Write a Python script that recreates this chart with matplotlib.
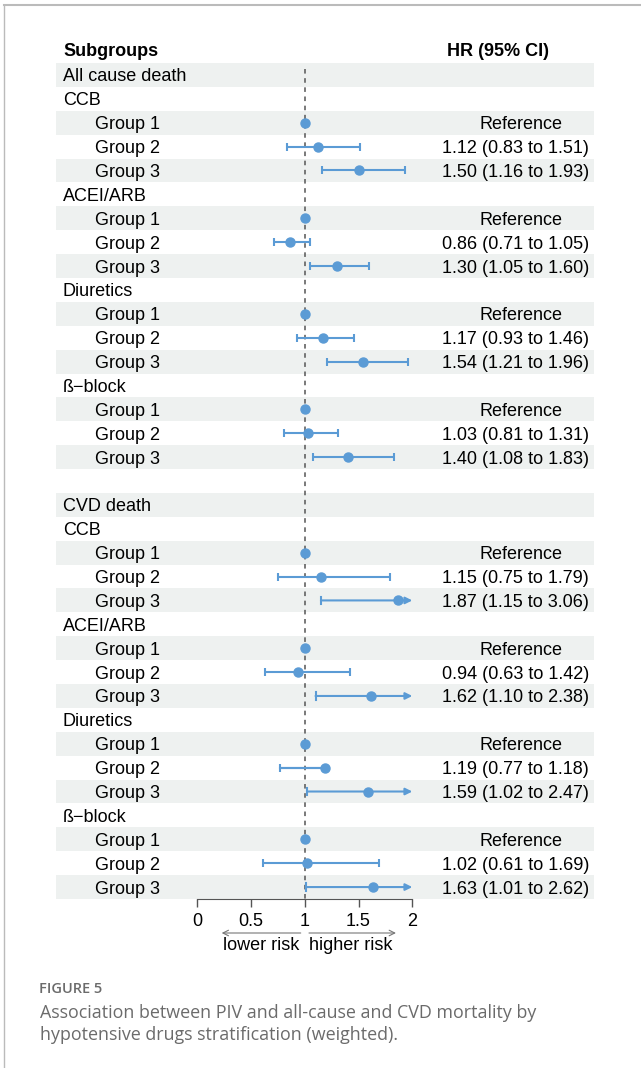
import matplotlib
matplotlib.use("Agg")
import matplotlib.pyplot as plt
from matplotlib.lines import Line2D
from matplotlib.transforms import blended_transform_factory

plt.rcParams["font.family"] = ["Liberation Sans", "DejaVu Sans"]

# rows: (label, level, hr, lower, upper, text)
drug_names = ["CCB", "ACEI/ARB", "Diuretics", "ß−block"]
groups = ["Group 1", "Group 2", "Group 3"]

all_hr = [[1.12, 1.50], [0.86, 1.30], [1.17, 1.54], [1.03, 1.40]]
all_lo = [[0.83, 1.16], [0.71, 1.05], [0.93, 1.21], [0.81, 1.08]]
all_hi = [[1.51, 1.93], [1.05, 1.60], [1.46, 1.96], [1.31, 1.83]]

cvd_hr = [[1.15, 1.87], [0.94, 1.62], [1.19, 1.59], [1.02, 1.63]]
cvd_lo = [[0.75, 1.15], [0.63, 1.10], [0.77, 1.02], [0.61, 1.01]]
cvd_hi = [[1.79, 3.06], [1.42, 2.38], [1.18, 2.47], [1.69, 2.62]]

ticks = [0, 0.5, 1, 1.5, 2]

BLUE = "#5b9bd5"
SHADE = "#eef1f0"
XMAX = 2.0


def build_rows():
    rows = []
    for title, hr, lo, hi in [("All cause death", all_hr, all_lo, all_hi),
                              ("CVD death", cvd_hr, cvd_lo, cvd_hi)]:
        if rows:
            rows.append(("", 0, None, None, None, ""))
        rows.append((title, 0, None, None, None, ""))
        for d, drug in enumerate(drug_names):
            rows.append((drug, 0, None, None, None, ""))
            rows.append((groups[0], 1, 1.0, None, None, "Reference"))
            for g in range(2):
                txt = f"{hr[d][g]:.2f} ({lo[d][g]:.2f} to {hi[d][g]:.2f})"
                rows.append((groups[g + 1], 1, hr[d][g], lo[d][g], hi[d][g], txt))
    return rows


rows = build_rows()
n = len(rows)

W, H = 641, 1068
fig = plt.figure(figsize=(W / 100, H / 100), dpi=100)

# axes spans the shaded band; x scale puts 0 at px 197 and 2 at px 412
left_px, right_px, top_px, bot_px = 56, 594, 63, 899
x0_px, ppu = 197.3, 107.5
ax = fig.add_axes([left_px / W, 1 - bot_px / H, (right_px - left_px) / W, (bot_px - top_px) / H])
ax.set_xlim((left_px - x0_px) / ppu, (right_px - x0_px) / ppu)
ax.set_ylim(n - 0.5, -0.5)

for i in range(0, n, 2):
    if rows[i][0]:
        ax.axhspan(i - 0.5, i + 0.5, color=SHADE, lw=0, zorder=0)

ax.plot([1, 1], [-0.25, n - 0.5], ls=(0, (3, 3)), color="#555555", lw=1.1, zorder=1)

fs = 13
tx = ax.transAxes
bt = blended_transform_factory(tx, ax.transData)
for i, (label, level, hr, lo, hi, txt) in enumerate(rows):
    if label:
        xa = 0.013 if level == 0 else 0.0725
        ax.text(xa, i, label, transform=bt, ha="left", va="center_baseline", fontsize=fs)
    if hr is None:
        continue
    if txt == "Reference":
        ax.text(0.864, i, txt, transform=bt, ha="center", va="center_baseline", fontsize=fs)
    else:
        ax.text(0.9907, i, txt, transform=bt, ha="right", va="center_baseline", fontsize=fs)
    if lo is not None:
        if hi > XMAX:
            ax.plot([lo, lo], [i - 0.15, i + 0.15], color=BLUE, lw=1.5, zorder=2)
            ax.annotate("", xy=(XMAX, i), xytext=(lo, i),
                        arrowprops=dict(arrowstyle="-|>", color=BLUE, lw=1.5,
                                        shrinkA=0, shrinkB=0, mutation_scale=10))
        else:
            ax.errorbar([hr], [i], xerr=[[hr - lo], [max(hi - hr, 0)]], fmt="none",
                        ecolor=BLUE, elinewidth=1.5, capsize=3, capthick=1.5, zorder=2)
            if hi < hr:
                ax.plot([lo, hi], [i, i], color=BLUE, lw=1.5)
    ax.plot([hr], [i], "o", color=BLUE, ms=6.5, zorder=3)

# header
ax.text(0.013, -1.05, "Subgroups", transform=bt, ha="left", va="center_baseline",
        fontsize=fs, fontweight="bold", clip_on=False)
ax.text(0.8216, -1.05, "HR (95% CI)", transform=bt, ha="center", va="center_baseline",
        fontsize=fs, fontweight="bold", clip_on=False)

for s in ["top", "right", "left"]:
    ax.spines[s].set_visible(False)
ax.spines["bottom"].set_bounds(ticks[0], ticks[-1])
ax.spines["bottom"].set_color("#555555")
ax.set_yticks([])
ax.set_xticks(ticks)
ax.set_xticklabels(["0", "0.5", "1", "1.5", "2"])
ax.tick_params(axis="x", length=6, width=1, color="#555555", labelsize=fs, pad=4)

# risk direction arrows
bd = blended_transform_factory(ax.transData, fig.transFigure)
ya = 1 - 933 / H
yt = 1 - 946 / H
ax.annotate("", xy=(0.227, ya), xytext=(0.962, ya), xycoords=bd, textcoords=bd,
            arrowprops=dict(arrowstyle="->", color="#777777", lw=0.8, shrinkA=0, shrinkB=0))
ax.annotate("", xy=(1.848, ya), xytext=(1.039, ya), xycoords=bd, textcoords=bd,
            arrowprops=dict(arrowstyle="->", color="#777777", lw=0.8, shrinkA=0, shrinkB=0))
ax.text(0.95, yt, "lower risk", transform=bd, ha="right", va="center", fontsize=fs)
ax.text(1.04, yt, "higher risk", transform=bd, ha="left", va="center", fontsize=fs)

# page frame
fig.add_artist(Line2D([4 / W, 1], [1 - 5 / H, 1 - 5 / H], color="#bbbbbb", lw=1.5))
fig.add_artist(Line2D([4 / W, 4 / W], [0, 1 - 5 / H], color="#bbbbbb", lw=1.0))

# caption
cap = dict(family=["Open Sans", "DejaVu Sans"], color="#6b6b6b")
fig.text(39 / W, 1 - 989 / H, "FIGURE 5", fontsize=10.5, fontweight="semibold", va="center", **cap)
fig.text(40 / W, 1 - 1013 / H, "Association between PIV and all-cause and CVD mortality by",
         fontsize=12.9, va="center", **cap)
fig.text(40 / W, 1 - 1035 / H, "hypotensive drugs stratification (weighted).",
         fontsize=12.9, va="center", **cap)

fig.savefig("out.png", dpi=100)
